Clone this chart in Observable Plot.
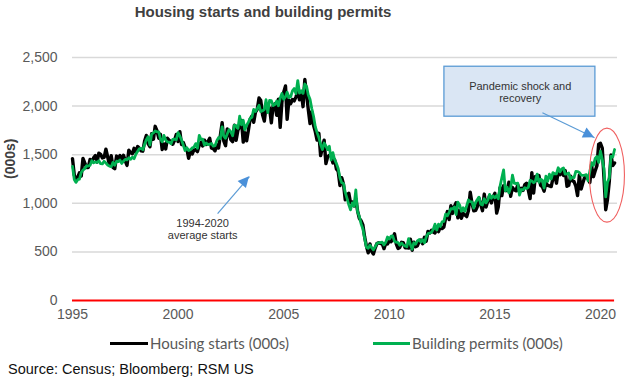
<!DOCTYPE html>
<html><head><meta charset="utf-8">
<script src="https://cdn.jsdelivr.net/npm/d3@7"></script>
<script src="https://cdn.jsdelivr.net/npm/@observablehq/plot@0.6"></script>
<style>
body{margin:0;background:#fff;}
#wrap{position:relative;width:630px;height:382px;overflow:hidden;background:#fff;font-family:"Liberation Sans",Arial,sans-serif;}
#title{position:absolute;top:3px;left:0;width:526px;text-align:center;font-weight:bold;font-size:15px;line-height:18px;color:#404040;font-family:"Liberation Sans Narrow","Liberation Sans",Arial,sans-serif;}
#chart{position:absolute;top:30px;left:0;}
.leg{position:absolute;top:335px;font-family:Lato,"Open Sans",sans-serif;font-size:15px;line-height:16px;color:#595959;white-space:nowrap;}
.legline{position:absolute;top:342px;height:3px;}
#source{position:absolute;left:8px;top:361px;font-size:14.5px;line-height:17px;color:#111;white-space:nowrap;}
</style></head>
<body>
<div id="wrap">
  <div id="title"></div>
  <div id="chart"></div>
  <div id="legend"></div>
  <div id="source"></div>
</div>
<script>
// ---- data (monthly, thousands, SAAR), first month Jan 1995, last Sep 2020 ----
const firstYear = 1995;
const starts = [
1460,1290,1249,1267,1314,1281,1461,1416,1369,1369,1452,1431,
1467,1491,1424,1516,1504,1467,1472,1557,1475,1392,1489,1370,
1355,1486,1457,1492,1442,1494,1437,1390,1546,1520,1510,1566,
1525,1584,1567,1540,1536,1641,1698,1614,1582,1715,1660,1792,
1748,1670,1710,1553,1611,1559,1669,1648,1635,1608,1648,1708,
1636,1737,1604,1626,1575,1559,1463,1541,1507,1549,1551,1532,
1600,1625,1590,1649,1605,1636,1670,1567,1562,1540,1602,1568,
1698,1829,1642,1592,1764,1717,1655,1633,1804,1648,1753,1788,
1853,1629,1726,1643,1751,1867,1897,1833,1939,1967,2083,2057,
1911,1846,1998,2003,1981,1828,2002,2024,1905,2072,1782,2042,
2144,2207,1864,2061,2025,2068,2054,2095,2151,2065,2147,1994,
2273,2119,1969,1821,1942,1802,1737,1650,1720,1491,1570,1649,
1409,1480,1495,1490,1415,1448,1354,1330,1183,1264,1197,1037,
1084,1103,1005,1013,973,1046,923,844,820,777,652,560,
490,582,505,478,540,585,594,586,585,534,588,581,
614,604,636,687,583,536,546,599,594,543,545,539,
630,517,600,554,561,608,623,585,650,610,711,694,
723,704,695,753,708,757,740,754,847,915,833,976,
896,968,1005,851,923,846,898,880,863,926,1114,1001,
922,927,962,1053,988,924,1095,961,1025,1078,1004,1066,
1103,900,963,1163,1079,1180,1131,1130,1217,1073,1163,1140,
1129,1192,1114,1155,1133,1190,1207,1136,1049,1316,1105,1276,
1237,1285,1185,1171,1125,1213,1185,1179,1172,1255,1298,1207,
1335,1295,1332,1287,1337,1176,1185,1278,1232,1223,1177,1079,
1291,1147,1205,1265,1271,1253,1213,1384,1274,1333,1388,1608,
1617,1567,1269,934,1038,1220,1497,1388,1415
];
const permits = [
1380,1245,1215,1243,1248,1317,1342,1356,1387,1383,1391,1438,
1417,1426,1420,1437,1408,1406,1432,1415,1394,1382,1376,1421,
1392,1433,1429,1445,1410,1433,1452,1446,1468,1453,1474,1459,
1504,1535,1560,1566,1551,1608,1654,1684,1600,1712,1724,1744,
1735,1734,1663,1633,1698,1650,1632,1630,1612,1658,1660,1654,
1727,1692,1651,1597,1543,1572,1542,1552,1570,1577,1614,1567,
1699,1656,1660,1599,1621,1603,1608,1616,1588,1592,1645,1676,
1665,1787,1691,1669,1716,1758,1738,1695,1803,1799,1771,1896,
1808,1854,1757,1803,1835,1875,1885,1966,1945,1974,2008,1944,
1952,1966,2066,1933,2058,2056,2005,2016,2052,2003,2081,2130,
2070,2097,2143,2089,2096,2157,2181,2129,2263,2134,2157,2131,
2227,2201,2117,2071,1975,1895,1788,1727,1677,1604,1552,1620,
1589,1552,1587,1446,1521,1448,1411,1358,1260,1212,1204,1112,
1051,984,933,1005,972,1138,912,863,788,738,639,549,
537,568,543,521,551,587,595,596,600,572,600,653,
632,662,665,608,601,596,569,590,569,562,553,637,
576,527,594,579,614,627,602,625,593,653,688,694,
701,733,785,724,786,761,809,813,888,871,907,946,
942,962,884,1012,983,918,954,918,975,1035,1017,1015,
950,1009,1037,1063,991,983,1047,1004,1034,1091,1052,1076,
1057,1080,1047,1177,1262,1344,1127,1165,1107,1161,1290,1208,
1202,1208,1084,1142,1137,1160,1152,1164,1236,1229,1212,1228,
1300,1216,1249,1238,1157,1279,1226,1300,1250,1316,1303,1302,
1366,1323,1354,1364,1301,1303,1311,1249,1270,1265,1328,1326,
1317,1291,1288,1290,1294,1232,1330,1419,1391,1461,1482,1420,
1536,1452,1356,1066,1216,1258,1483,1476,1553
];
const seriesNames = ["Housing starts (000s)", "Building permits (000s)"];
const seriesColors = ["#000000", "#00b050"];
const yTicks = [0, 500, 1000, 1500, 2000, 2500];
const xTickYears = [1995, 2000, 2005, 2010, 2015, 2020];
const titleText = "Housing starts and building permits";
const yLabel = "(000s)";
const sourceText = "Source: Census; Bloomberg; RSM US";

// annotations, in data coordinates (fractional years, thousands)
const noteBox = [{x1: 2012.61, x2: 2019.76, y1: 1891, y2: 2405}];
const noteBoxText = [{x: 2016.2, y: 2148, text: "Pandemic shock and\nrecovery"}];
const noteAvgText = [{x: 2001.16, y: 730, text: "1994-2020\naverage starts"}];
const noteArrows = [
  {x1: 2001.87, y1: 894, x2: 2003.38, y2: 1274},
  {x1: 2017.25, y1: 1932, x2: 2019.72, y2: 1675}
];
const noteEllipse = [{x: 2020.33, y: 1285}];

// ---- helpers ----
const yd = y => { const yr = Math.floor(y); const a = Date.UTC(yr,0,1), b = Date.UTC(yr+1,0,1); return new Date(a + (y-yr)*(b-a)); };
const monthDate = i => new Date(Date.UTC(firstYear, i, 1));
const startsData = starts.map((v,i) => ({date: monthDate(i), value: v}));
const permitsData = permits.map((v,i) => ({date: monthDate(i), value: v}));
const lastDate = monthDate(starts.length - 1);

document.getElementById("title").textContent = titleText;
document.getElementById("source").textContent = sourceText;

const chart = Plot.plot({
  width: 630,
  height: 300,
  marginLeft: 72,
  marginRight: 13,
  marginTop: 27,
  marginBottom: 30,
  style: {fontFamily: '"Liberation Sans", Arial, sans-serif', fontSize: "14px", color: "#595959", background: "transparent", overflow: "visible"},
  x: {type: "utc", domain: [yd(1995), yd(2020.805)]},
  y: {domain: [0, 2500]},
  marks: [
    Plot.ruleY(yTicks.filter(d => d > 0), {stroke: "#d9d9d9", strokeWidth: 1.5}),
    Plot.ruleY([{y: 0, x1: startsData[0].date, x2: lastDate}], {y: "y", x1: "x1", x2: "x2", stroke: "#ff0000", strokeWidth: 2}),
    Plot.axisY({ticks: yTicks, tickFormat: d3.format(","), tickSize: 0, tickPadding: 15, label: null}),
    Plot.axisX({ticks: xTickYears.map(y => yd(y)), tickFormat: d3.utcFormat("%Y"), tickSize: 0, tickPadding: 9, label: null}),
    Plot.text([yLabel], {frameAnchor: "left", dx: -62, rotate: -90, fontWeight: "bold", fontSize: 14, fill: "#404040"}),
    Plot.line(startsData, {x: "date", y: "value", stroke: seriesColors[0], strokeWidth: 3.4, strokeLinejoin: "round"}),
    Plot.line(permitsData, {x: "date", y: "value", stroke: seriesColors[1], strokeWidth: 2.8, strokeLinejoin: "round"}),
    Plot.rect(noteBox, {x1: d => yd(d.x1), x2: d => yd(d.x2), y1: "y1", y2: "y2", fill: "#dae6f4", stroke: "#5b9bd5", strokeWidth: 1.3}),
    Plot.text(noteBoxText, {x: d => yd(d.x), y: "y", text: "text", fontSize: 11, fill: "#333", lineHeight: 1.1}),
    Plot.text(noteAvgText, {x: d => yd(d.x), y: "y", text: "text", fontSize: 11, fill: "#333", lineHeight: 1.1}),
    Plot.link(noteArrows, {x1: d => yd(d.x1), y1: "y1", x2: d => yd(d.x2), y2: "y2", stroke: "#5b9bd5", strokeWidth: 1.2})
  ]
});
document.getElementById("chart").appendChild(chart);

// arrowheads and ellipse drawn with Plot's own scales
const sx = chart.scale("x"), sy = chart.scale("y");
const fx = sx.apply ? (d => sx.apply(d)) : d3.scaleUtc(sx.domain, sx.range);
const fy = sy.apply ? (d => sy.apply(d)) : d3.scaleLinear(sy.domain, sy.range);
const svg = d3.select(chart);
for (const a of noteArrows) {
  const x1 = fx(yd(a.x1)), y1 = fy(a.y1), x2 = fx(yd(a.x2)), y2 = fy(a.y2);
  const ang = Math.atan2(y2 - y1, x2 - x1), L = 11, W = 5.5;
  const bx = x2 - L*Math.cos(ang), by = y2 - L*Math.sin(ang);
  const px = -Math.sin(ang)*W, py = Math.cos(ang)*W;
  svg.append("path").attr("d", `M${x2},${y2}L${bx+px},${by+py}L${bx-px},${by-py}Z`).attr("fill", "#4a90d9");
}
for (const e of noteEllipse) {
  svg.append("ellipse").attr("cx", fx(yd(e.x))).attr("cy", fy(e.y)).attr("rx", 17.5).attr("ry", 47)
    .attr("fill", "none").attr("stroke", "#f06060").attr("stroke-width", 1.1);
}

// legend
const legPos = [{line: 110, text: 150}, {line: 373, text: 412}];
const leg = document.getElementById("legend");
seriesNames.forEach((n, i) => {
  const l = document.createElement("div");
  l.className = "legline"; l.style.left = legPos[i].line + "px"; l.style.width = (legPos[i].text - legPos[i].line - 2) + "px"; l.style.background = seriesColors[i];
  leg.appendChild(l);
  const t = document.createElement("div");
  t.className = "leg"; t.style.left = legPos[i].text + "px"; t.textContent = n;
  leg.appendChild(t);
});
</script>
</body></html>
